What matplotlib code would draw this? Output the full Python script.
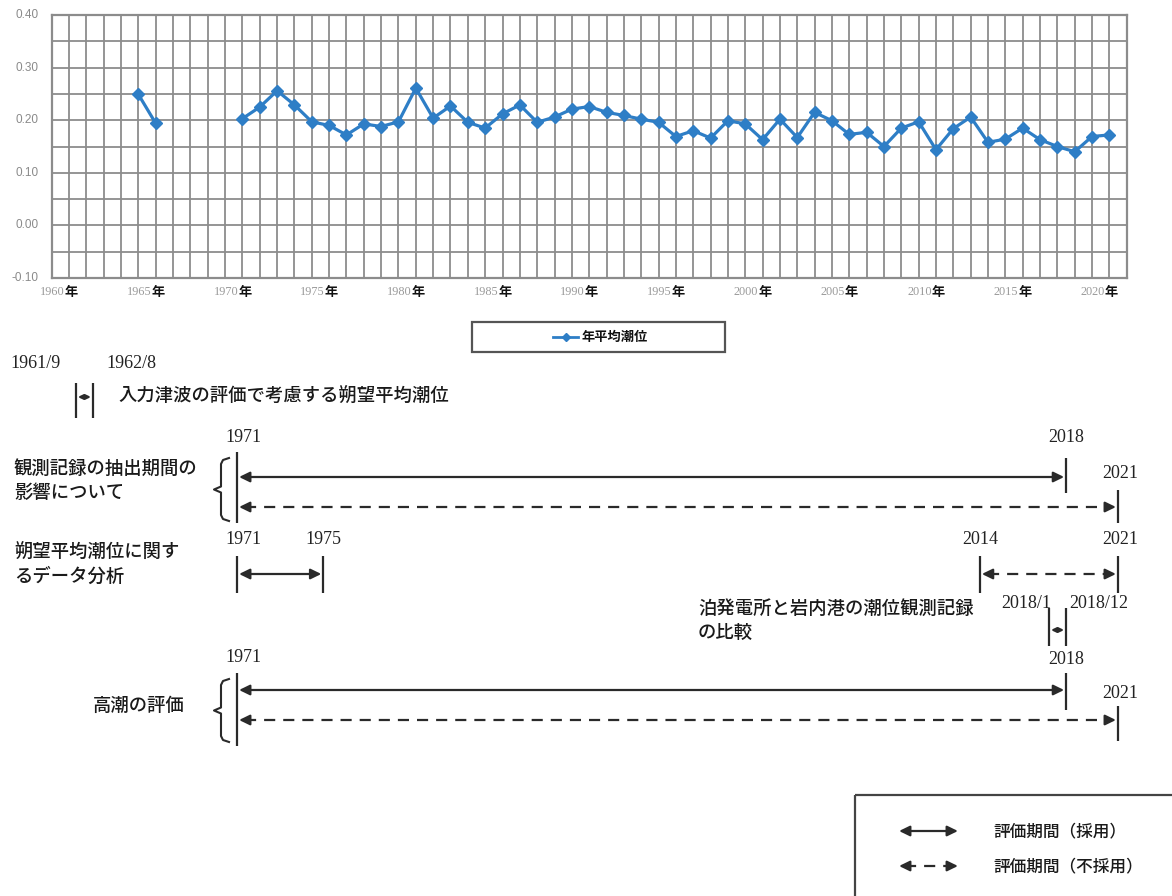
import matplotlib
matplotlib.use('Agg')
import matplotlib.pyplot as plt
import numpy as np
from matplotlib.patches import Rectangle, ArrowStyle
from matplotlib.transforms import blended_transform_factory

plt.rcParams['font.family'] = ['Noto Sans CJK JP', 'DejaVu Sans']

# ---------------- data ----------------
years = list(range(1965, 2022))
tide_level = [0.249, 0.194, None, None, None, None,
              0.203, 0.225, 0.256, 0.229, 0.197, 0.190, 0.172, 0.193, 0.188, 0.197,
              0.261, 0.204, 0.227, 0.196, 0.185, 0.212, 0.229, 0.196, 0.206, 0.221,
              0.226, 0.215, 0.209, 0.202, 0.196, 0.169, 0.180, 0.166, 0.199, 0.193,
              0.163, 0.202, 0.167, 0.215, 0.199, 0.173, 0.177, 0.150, 0.185, 0.197,
              0.144, 0.184, 0.206, 0.158, 0.164, 0.185, 0.163, 0.150, 0.140, 0.169,
              0.172]
series_name = '年平均潮位'
ytick_values = [-0.10, -0.05, 0.00, 0.05, 0.10, 0.15, 0.20, 0.25, 0.30, 0.35, 0.40]
ytick_labels = ['-0.10', '', '0.00', '', '0.10', '', '0.20', '', '0.30', '', '0.40']
xtick_years = list(range(1960, 2021, 5))

# evaluation periods (start month, end month inclusive)
period_start = ['1961/9', '1971/1', '1971/1', '1971/1', '2014/1', '2018/1', '1971/1', '1971/1']
period_end = ['1962/8', '2018/12', '2021/12', '1975/12', '2021/12', '2018/12', '2018/12', '2021/12']
period_adopted = [True, True, False, True, False, True, True, False]
period_start_label = ['1961/9', '1971', '1971', '1971', '2014', '2018/1', '1971', '1971']
period_end_label = ['1962/8', '2018', '2021', '1975', '2021', '2018/12', '2018', '2021']
row_texts = ['入力津波の評価で考慮する朔望平均潮位',
             '観測記録の抽出期間の\n影響について',
             '朔望平均潮位に関す\nるデータ分析',
             '泊発電所と岩内港の潮位観測記録\nの比較',
             '高潮の評価']
legend_texts = ['評価期間（採用）', '評価期間（不採用）']


def to_year(s, end=False):
    y, m = map(int, s.split('/'))
    return y + (m if end else m - 1) / 12.0


# ---------------- figure ----------------
W, H = 1172, 896
fig = plt.figure(figsize=(W / 100, H / 100), dpi=100)
fig.patch.set_facecolor('white')

ax = fig.add_axes([51.7 / W, 1 - 278 / H, 1075 / W, 263 / H])
ax.set_xlim(1960, 2022)
ax.set_ylim(-0.10, 0.40)
ax.set_xticks(np.arange(1960, 2023, 1))
ax.set_yticks(ytick_values)
ax.grid(True, color='#8c8c8c', lw=1.3)
ax.set_axisbelow(True)
ax.tick_params(labelbottom=False, labelleft=False, length=0)
for sp in ax.spines.values():
    sp.set_color('#8c8c8c')
    sp.set_linewidth(1.6)

tide_arr = np.array([np.nan if v is None else v for v in tide_level], dtype=float)
line, = ax.plot(years, tide_arr, color='#2E7EC6', lw=2.3, marker='D', ms=6,
                mfc='#2E7EC6', mec='#2E7EC6', zorder=3)

# y tick labels
for v, lab in zip(ytick_values, ytick_labels):
    if lab:
        ax.text(-0.012, v, lab, transform=blended_transform_factory(ax.transAxes, ax.transData),
                ha='right', va='center', fontsize=8.5, color='#8a8a8a', family='Liberation Sans')
# x tick labels
trx = blended_transform_factory(ax.transData, ax.transAxes)
for yr in xtick_years:
    ax.text(yr + 0.75, -0.055, str(yr), transform=trx, ha='right', va='center',
            fontsize=8.8, color='#9a9a9a', family='Liberation Serif')
    ax.text(yr + 0.75, -0.055, '年', transform=trx, ha='left', va='center',
            fontsize=9.5, color='#111111', fontweight='bold')

# ---------------- overlay axes ----------------
ax_p = fig.add_axes([0, 0, 1, 1])
ax_p.set_xlim(0, W)
ax_p.set_ylim(H, 0)
ax_p.set_axis_off()

k = (1118 - 237) / (2022 - 1971)
x0 = 1971 - 237 / k
ax_t = fig.add_axes([0, 0, 1, 1])
ax_t.set_xlim(x0, x0 + W / k)
ax_t.set_ylim(H, 0)
ax_t.set_axis_off()

# chart legend
ax_p.add_patch(Rectangle((472, 322), 253, 30, fill=False, ec='#555555', lw=1.6))
ax_p.plot([553, 565.5, 578], [337, 337, 337], color='#2E7EC6', lw=2.0, marker='D',
          ms=4.5, markevery=[1])
ax_p.text(582, 337, series_name, ha='left', va='center', fontsize=9.5, fontweight='bold',
          color='#111111')

ink = '#2a2a2a'
head = ArrowStyle('<|-|>', head_length=0.45, head_width=0.22)
head1 = ArrowStyle('-|>', head_length=0.45, head_width=0.22)


def solid_arrow(axx, xa, xb, y, ms=14):
    axx.annotate('', xy=(xb, y), xytext=(xa, y),
                 arrowprops=dict(arrowstyle=head, lw=1.6, color=ink, shrinkA=1.5, shrinkB=1.5,
                                 mutation_scale=ms))


def dashed_arrow(axx, xa, xb, y, step):
    axx.plot([xa + step, xb - step], [y, y], color=ink, lw=1.6, ls=(0, (5, 3.6)))
    axx.annotate('', xy=(xb, y), xytext=(xb - step, y),
                 arrowprops=dict(arrowstyle=head1, lw=1.6, color=ink, shrinkA=0, shrinkB=1.5,
                                 mutation_scale=14))
    axx.annotate('', xy=(xa, y), xytext=(xa + step, y),
                 arrowprops=dict(arrowstyle=head1, lw=1.6, color=ink, shrinkA=0, shrinkB=1.5,
                                 mutation_scale=14))


starts = [to_year(s) for s in period_start]
ends = [to_year(s, end=True) for s in period_end]

# layout: arrow y for each period
arrow_y = [397, 477, 507, 574, 574, 630, 690, 720]
for i, y in enumerate(arrow_y):
    if period_adopted[i]:
        span = ends[i] - starts[i]
        solid_arrow(ax_t, starts[i], ends[i], y, ms=14 if span > 2 else 6)
    else:
        dashed_arrow(ax_t, starts[i], ends[i], y, 0.45)

# vertical bounds: (period, which, y0, y1)
vlines = [(0, 's', 383, 418), (0, 'e', 383, 418),
          (1, 's', 452, 523), (1, 'e', 458, 493), (2, 'e', 490, 523),
          (3, 's', 556, 593), (3, 'e', 556, 593), (4, 's', 556, 593), (4, 'e', 556, 593),
          (5, 's', 608, 646), (5, 'e', 608, 646),
          (6, 's', 673, 746), (6, 'e', 673, 710), (7, 'e', 706, 741)]
for i, w, ya, yb in vlines:
    xv = starts[i] if w == 's' else ends[i]
    ax_t.plot([xv, xv], [ya, yb], color=ink, lw=1.6, solid_capstyle='butt')

# endpoint labels: (period, which, dx in px, y, ha)
num_font = dict(family='Liberation Serif', fontsize=13, color='#222222')
end_labels = [(0, 's', -40, 363, 'center'), (0, 'e', 38, 363, 'center'),
              (1, 's', 6, 437, 'center'), (1, 'e', 0, 437, 'center'), (2, 'e', 2, 474, 'center'),
              (3, 's', 6, 540, 'center'), (3, 'e', 0, 540, 'center'),
              (4, 's', 0, 540, 'center'), (4, 'e', 2, 540, 'center'),
              (5, 's', -23, 604, 'center'), (5, 'e', 33, 604, 'center'),
              (6, 's', 6, 657, 'center'), (6, 'e', 0, 660, 'center'), (7, 'e', 2, 693, 'center')]
for i, w, dx, y, ha in end_labels:
    xv = starts[i] if w == 's' else ends[i]
    lab = period_start_label[i] if w == 's' else period_end_label[i]
    ax_t.text(xv + dx / k, y, lab, ha=ha, va='center', **num_font)

jp_font = dict(fontsize=13.2, color='#1a1a1a', linespacing=1.4, fontweight='medium')
ax_p.text(118, 397, row_texts[0], ha='left', va='center', **jp_font)
ax_p.text(14, 481, row_texts[1], ha='left', va='center', **jp_font)
ax_p.text(14, 565, row_texts[2], ha='left', va='center', **jp_font)
ax_p.text(698, 621, row_texts[3], ha='left', va='center', **jp_font)
ax_p.text(93, 706, row_texts[4], ha='left', va='center', **jp_font)


def bracket(xr, ya, yb):
    ym = (ya + yb) / 2
    xs = [xr + 8, xr + 2, xr, xr, xr - 7, xr, xr, xr + 2, xr + 8]
    ys = [ya, ya + 2, ya + 6, ym - 3, ym, ym + 3, yb - 6, yb - 2, yb]
    ax_p.plot(xs, ys, color=ink, lw=1.5)


bracket(221, 458, 521)
bracket(221, 679, 742)

# bottom legend
ax_p.add_patch(Rectangle((855, 795), 400, 200, fill=False, ec='#444444', lw=1.6))
solid_arrow(ax_p, 897, 960, 831)
dashed_arrow(ax_p, 897, 960, 866, 8)
ax_p.text(993, 831, legend_texts[0], ha='left', va='center', fontsize=12, color='#1a1a1a',
          fontweight='medium')
ax_p.text(993, 866, legend_texts[1], ha='left', va='center', fontsize=12, color='#1a1a1a',
          fontweight='medium')

fig.savefig('out.png', dpi=100, facecolor='white')
